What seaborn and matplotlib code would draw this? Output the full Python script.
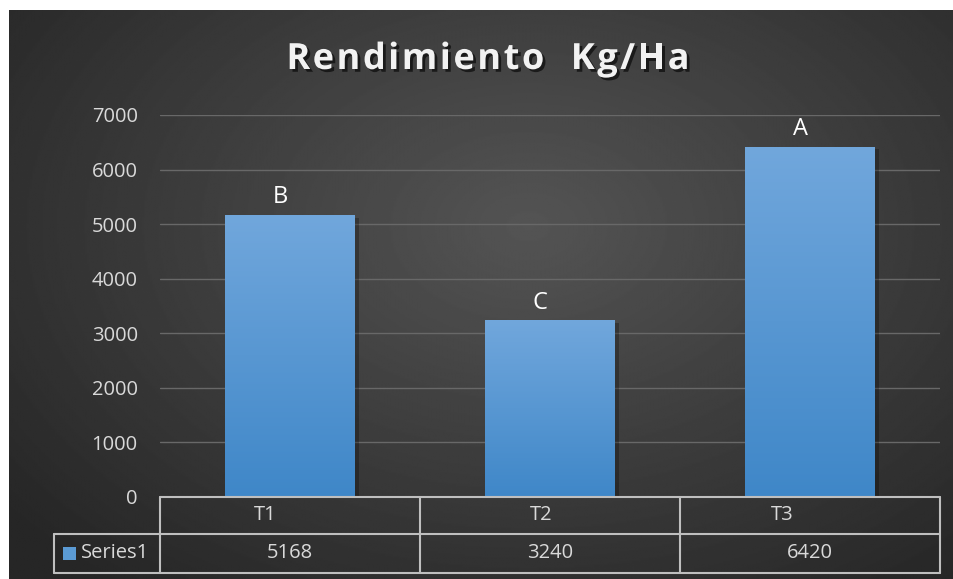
import numpy as np
import matplotlib
matplotlib.use("Agg")
import matplotlib.pyplot as plt
import matplotlib.patheffects as pe
from matplotlib.lines import Line2D
from matplotlib.patches import Rectangle
from matplotlib.transforms import blended_transform_factory
import seaborn as sns

# Yield per treatment (kg/ha) and significance letters
categories = ["T1", "T2", "T3"]
yields = [5168, 3240, 6420]
letters = ["B", "C", "A"]
series_name = "Series1"
y_ticks = [0, 1000, 2000, 3000, 4000, 5000, 6000, 7000]
title = "Rendimiento  Kg/Ha"

sns.set_theme(style="white")
plt.rcParams["font.family"] = ["Open Sans", "DejaVu Sans"]

W, H, DPI = 954, 579, 100
fig = plt.figure(figsize=(W / DPI, H / DPI), dpi=DPI)
fig.patch.set_facecolor("white")

# Dark radial-gradient chart area
bg = fig.add_axes([9 / W, 0, 1 - 9 / W, 1 - 10 / H])
bg.set_axis_off()
gy, gx = np.mgrid[0:1:400j, 0:1:600j]
r = np.sqrt(((gx - 0.55) / 0.75) ** 2 + ((gy - 0.38) / 0.85) ** 2)
light = np.clip(0.33 - 0.19 * r, 0.15, 0.33)
bg.imshow(light, cmap="gray", vmin=0, vmax=1, aspect="auto",
          extent=[0, 1, 1, 0], interpolation="bilinear")
bg.set_xlim(0, 1)
bg.set_ylim(1, 0)

# Plot area
ax = fig.add_axes([160 / W, 82 / H, 780 / W, 382 / H])
ax.patch.set_alpha(0)
sns.barplot(x=categories, y=yields, width=0.5, color="#5b9bd5",
            saturation=1, linewidth=0, ax=ax, zorder=3)
ax.set_xlim(-0.5, len(categories) - 0.5)
ax.set_ylim(0, 7000)
ax.set_yticks(y_ticks)
ax.set_yticklabels([str(t) for t in y_ticks], color="#d9d9d9", fontsize=14.5)
ax.tick_params(axis="y", length=0, pad=16)
ax.set_xticks([])
ax.set_xlabel("")
ax.set_ylabel("")
for s in ax.spines.values():
    s.set_visible(False)
ax.yaxis.grid(True, color="#686868", linewidth=1)
ax.set_axisbelow(True)

# Vertical gradient fill on each bar
grad = np.linspace(0, 1, 256).reshape(-1, 1)
top_c = np.array([0x71, 0xa7, 0xdc]) / 255
bot_c = np.array([0x3f, 0x87, 0xc8]) / 255
grad_img = (top_c * (1 - grad[..., None]) + bot_c * grad[..., None])
for p in ax.patches:
    x0, y0 = p.get_x(), p.get_y()
    w, h = p.get_width(), p.get_height()
    p.set_path_effects([pe.SimplePatchShadow(offset=(3, -2), alpha=0.25,
                                             shadow_rgbFace="black"),
                        pe.Normal()])
    im = ax.imshow(grad_img, extent=[x0, x0 + w, y0, y0 + h],
                   aspect="auto", zorder=4, interpolation="bilinear")
    im.set_clip_path(p)
ax.set_xlim(-0.5, len(categories) - 0.5)
ax.set_ylim(0, 7000)

# Significance letters above the bars
for i, (v, lab) in enumerate(zip(yields, letters)):
    ax.annotate(lab, (i, v), xytext=(-7, 4), textcoords="offset points",
                ha="center", va="bottom", color="white", fontsize=17,
                zorder=5)

# Letter-spaced title, laid out glyph by glyph
renderer = fig.canvas.get_renderer()
title_kw = dict(fontsize=26, fontweight="bold", color="#f2f2f2", va="center",
                ha="left",
                path_effects=[pe.withSimplePatchShadow(offset=(2, -2), alpha=0.6,
                                                       shadow_rgbFace="black")])
gap, space_w = 2.5, 12.0
glyphs, cursor = [], 0.0
for ch in title:
    if ch == " ":
        cursor += space_w
        continue
    t = fig.text(0, 1 - 60 / H, ch, **title_kw)
    wpx = t.get_window_extent(renderer).width
    glyphs.append((t, cursor))
    cursor += wpx + gap
total = cursor - gap
start = 488 - total / 2
for t, off in glyphs:
    t.set_x((start + off) / W)

# Data table under the axis
ah = 382.0
row1 = -37 / ah
row2 = -76 / ah
left_cell = (54 - 160) / 780.0
tr = blended_transform_factory(ax.transData, ax.transAxes)
line_kw = dict(color="#bfbfbf", linewidth=1.5, clip_on=False, zorder=6)
n = len(categories)
ax.add_line(Line2D([-0.5, n - 0.5], [0, 0], transform=tr, **line_kw))
ax.add_line(Line2D([left_cell, 1], [row1, row1], transform=ax.transAxes, **line_kw))
ax.add_line(Line2D([left_cell, 1], [row2, row2], transform=ax.transAxes, **line_kw))
ax.add_line(Line2D([left_cell, left_cell], [row1, row2], transform=ax.transAxes, **line_kw))
for i in range(n + 1):
    ax.add_line(Line2D([i - 0.5, i - 0.5], [0, row2], transform=tr, **line_kw))

header_shift = [-0.095, -0.035, -0.105]
for i, (cat, v) in enumerate(zip(categories, yields)):
    ax.text(i + header_shift[i], row1 / 2, cat, transform=tr, ha="center",
            va="center", color="#d9d9d9", fontsize=14.5, clip_on=False)
    ax.text(i, (row1 + row2) / 2, str(v), transform=tr, ha="center",
            va="center", color="#d9d9d9", fontsize=14.5, clip_on=False)

# Legend key in the table
ax.add_patch(Rectangle(((63 - 160) / 780.0, (row1 + row2) / 2 - 6.5 / ah),
                       13 / 780.0, 13 / ah, transform=ax.transAxes, clip_on=False,
                       facecolor="#5b9bd5", edgecolor="none", zorder=6))
ax.text((81 - 160) / 780.0, (row1 + row2) / 2, series_name,
        transform=ax.transAxes, ha="left", va="center", color="#d9d9d9",
        fontsize=14.5, clip_on=False)

fig.savefig("out.png", dpi=DPI, facecolor="white")
